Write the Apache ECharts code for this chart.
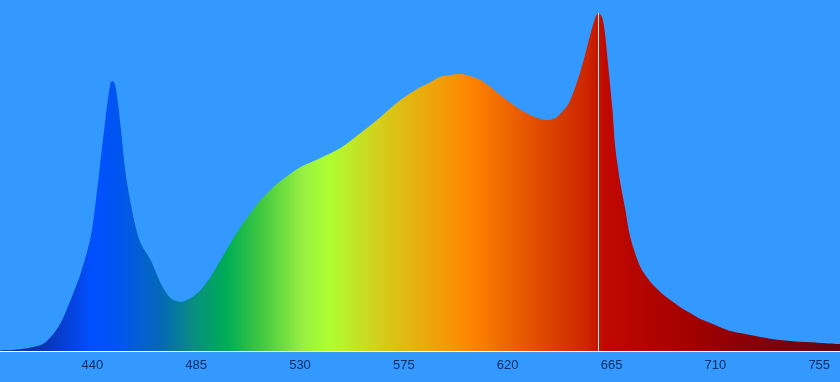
<!DOCTYPE html>
<html>
<head>
<meta charset="utf-8">
<script src="https://cdn.jsdelivr.net/npm/echarts@6/dist/echarts.min.js"></script>
<style>
html,body{margin:0;padding:0;background:#3399FF;}
#c{width:840px;height:382px;}
</style>
</head>
<body>
<div id="c"></div>
<script>
// Wavelengths (nm) and relative intensity
var wavelengths = [400.3,405.9,417.6,422.0,426.3,430.6,435.0,439.3,441.4,443.6,445.8,447.9,448.8,450.1,452.3,454.4,456.6,458.8,460.9,465.3,469.6,473.9,478.3,482.6,486.9,491.2,495.6,499.9,504.2,508.6,512.9,517.2,521.6,530.2,538.9,547.5,556.2,564.9,573.5,582.2,586.5,590.9,595.2,599.5,603.9,608.2,612.5,616.8,621.2,625.5,629.8,634.2,637.2,640.7,642.8,646.3,649.3,651.5,653.7,655.8,658.0,659.3,661.0,662.3,663.6,665.4,666.6,668.8,671.0,673.1,677.5,681.8,686.1,690.5,694.8,699.1,703.5,707.8,712.1,716.5,720.8,729.5,738.1,746.8,755.4,764.1];
var intensity = [0.2,0.3,1.7,4.0,8.0,14.5,22.2,32.5,42.2,54.4,66.7,76.4,76.9,75.2,63.8,50.7,42.2,35.3,30.8,25.9,19.4,15.1,14.0,15.1,17.4,21.1,25.9,30.8,35.3,39.3,43.0,45.9,48.4,52.4,55.0,57.8,62.1,66.7,71.5,75.2,76.6,78.1,78.6,78.9,78.3,77.2,75.2,72.9,70.7,68.7,67.2,66.1,65.8,66.4,67.6,70.4,75.2,79.6,84.8,90.2,95.0,96.3,94.9,89.5,80.9,68.7,58.1,47.9,40.2,32.5,23.9,19.7,16.8,14.5,12.5,10.8,9.1,8.0,6.8,5.7,5.1,4.0,3.1,2.6,2.3,2.0];
var tickLabels = [440,485,530,575,620,665,710,755];
var peakWavelength = 659.3;
var peakValue = 96.3;

var data = wavelengths.map(function(w,i){return [w,intensity[i]];});

var chart = echarts.init(document.getElementById('c'));
chart.setOption({
  backgroundColor:'#3399FF',
  animation:false,
  grid:{left:0,right:0,top:0,bottom:31,containLabel:false},
  xAxis:{
    type:'value',min:400,max:764,
    axisLine:{show:true,lineStyle:{color:'#ffffff',width:1}},
    axisTick:{show:true,inside:true,length:4,lineStyle:{color:'#ffffff'},customValues:tickLabels},
    axisLabel:{show:true,color:'#142E66',fontSize:13,fontFamily:'Liberation Sans, Arial, sans-serif',margin:8,customValues:tickLabels},
    splitLine:{show:false}
  },
  yAxis:{type:'value',min:0,max:100,show:false,splitLine:{show:false}},
  series:[{
    type:'line',
    data:data,
    smooth:0.3,
    symbol:'none',
    lineStyle:{width:0},
    areaStyle:{
      opacity:1,
      color:new echarts.graphic.LinearGradient(0,0,1,0,[
        {offset:0,color:'#0A2A90'},
        {offset:0.06,color:'#0838C0'},
        {offset:0.11,color:'#0050FF'},
        {offset:0.14,color:'#0055F0'},
        {offset:0.19,color:'#0568B8'},
        {offset:0.23,color:'#078E80'},
        {offset:0.27,color:'#00AE55'},
        {offset:0.31,color:'#40C840'},
        {offset:0.36,color:'#98F040'},
        {offset:0.39,color:'#AEFF33'},
        {offset:0.46,color:'#D8C818'},
        {offset:0.52,color:'#F0A008'},
        {offset:0.56,color:'#FF8400'},
        {offset:0.64,color:'#E04C00'},
        {offset:0.70,color:'#CC2400'},
        {offset:0.71,color:'#C41800'},
        {offset:0.72,color:'#C00800'},
        {offset:0.83,color:'#A00000'},
        {offset:0.96,color:'#700010'},
        {offset:1,color:'#640010'}
      ])
    },
    markLine:{
      silent:true,
      symbol:['none','none'],
      label:{show:false},
      lineStyle:{color:'#ffffff',width:1,type:'solid',opacity:0.9},
      data:[[{coord:[peakWavelength,0]},{coord:[peakWavelength,peakValue]}]]
    }
  }]
});
</script>
</body>
</html>
